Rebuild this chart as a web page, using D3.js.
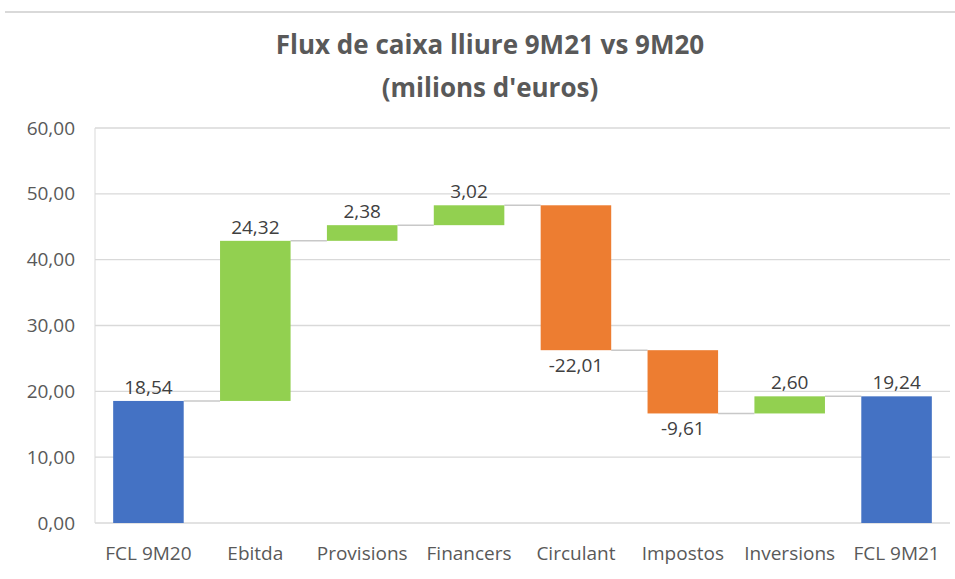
<!DOCTYPE html>
<html>
<head>
<meta charset="utf-8">
<script src="https://cdn.jsdelivr.net/npm/d3@7"></script>
<style>
  body { margin: 0; background: #fff; }
  svg { display: block; font-family: "Liberation Sans Narrow", "Open Sans", sans-serif; }
</style>
</head>
<body>
<svg id="chart"></svg>
<script>
const categories = ['FCL 9M20', 'Ebitda', 'Provisions', 'Financers', 'Circulant', 'Impostos', 'Inversions', 'FCL 9M21'];
const values = [18.54, 24.32, 2.38, 3.02, -22.01, -9.61, 2.60, 19.24];
const isTotal = [true, false, false, false, false, false, false, true];
const yTicks = [0, 10, 20, 30, 40, 50, 60];
const titleLines = ['Flux de caixa lliure 9M21 vs 9M20', "(milions d'euros)"];

const width = 955, height = 579;
const margin = {top: 128, right: 5, bottom: 56, left: 95};

const fmt = v => d3.format('.2f')(v).replace('.', ',').replace('\u2212', '-');

// running totals for the waterfall
let run = 0;
const steps = values.map((v, i) => {
    let start, end;
    if (isTotal[i]) { start = 0; end = v; run = v; }
    else { start = run; end = run + v; run = end; }
    return {cat: categories[i], v, start, end, total: isTotal[i]};
});

const svg = d3.select('#chart').attr('width', width).attr('height', height);

svg.append('line')
    .attr('x1', 5).attr('x2', width).attr('y1', 12).attr('y2', 12)
    .attr('stroke', '#d9d9d9').attr('stroke-width', 2);

svg.selectAll('text.title')
    .data(titleLines)
    .join('text')
    .attr('class', 'title')
    .attr('x', 490).attr('y', (d, i) => 54 + i * 43)
    .attr('text-anchor', 'middle')
    .attr('font-size', 26).attr('font-weight', 'bold')
    .attr('fill', '#595959')
    .text(d => d);

const x = d3.scaleBand()
    .domain(categories)
    .range([margin.left, width - margin.right])
    .paddingInner(0.34).paddingOuter(0.17);

const y = d3.scaleLinear()
    .domain([0, 60])
    .range([height - margin.bottom, margin.top]);

// gridlines
svg.append('g')
    .selectAll('line')
    .data(yTicks)
    .join('line')
    .attr('x1', margin.left).attr('x2', width - margin.right)
    .attr('y1', d => y(d)).attr('y2', d => y(d))
    .attr('stroke', '#d9d9d9').attr('stroke-width', 1.3);

svg.append('line')
    .attr('x1', margin.left).attr('x2', margin.left)
    .attr('y1', y(60)).attr('y2', y(0))
    .attr('stroke', '#d9d9d9').attr('stroke-width', 1);

const yAxis = svg.append('g')
    .attr('transform', `translate(${margin.left - 17},0)`)
    .call(d3.axisLeft(y).tickValues(yTicks).tickFormat(fmt).tickSize(0));
yAxis.select('.domain').remove();
yAxis.selectAll('text').attr('font-size', 19).attr('fill', '#595959')
    .attr('font-family', '"Liberation Sans Narrow", "Open Sans", sans-serif');

const xAxis = svg.append('g')
    .attr('transform', `translate(0,${y(0) + 20})`)
    .call(d3.axisBottom(x).tickSize(0));
xAxis.select('.domain').remove();
xAxis.selectAll('text').attr('font-size', 19).attr('fill', '#595959')
    .attr('font-family', '"Liberation Sans Narrow", "Open Sans", sans-serif');

// connectors
svg.append('g')
    .selectAll('line')
    .data(steps.slice(0, -1))
    .join('line')
    .attr('x1', (d, i) => x(categories[i]) + x.bandwidth())
    .attr('x2', (d, i) => x(categories[i + 1]))
    .attr('y1', d => y(d.end)).attr('y2', d => y(d.end))
    .attr('stroke', '#c8c8c8').attr('stroke-width', 1.5);

const color = d => d.total ? '#4472C4' : (d.v >= 0 ? '#92D050' : '#ED7D31');

svg.append('g')
    .selectAll('rect')
    .data(steps)
    .join('rect')
    .attr('x', d => x(d.cat))
    .attr('width', x.bandwidth())
    .attr('y', d => y(Math.max(d.start, d.end)))
    .attr('height', d => Math.abs(y(d.start) - y(d.end)))
    .attr('fill', color);

svg.append('g')
    .selectAll('text')
    .data(steps)
    .join('text')
    .attr('x', d => x(d.cat) + x.bandwidth() / 2)
    .attr('y', d => d.v >= 0 ? y(d.end) - 7 : y(d.end) + 22)
    .attr('text-anchor', 'middle')
    .attr('font-size', 19).attr('fill', '#404040')
    .text(d => fmt(d.v));
</script>
</body>
</html>
